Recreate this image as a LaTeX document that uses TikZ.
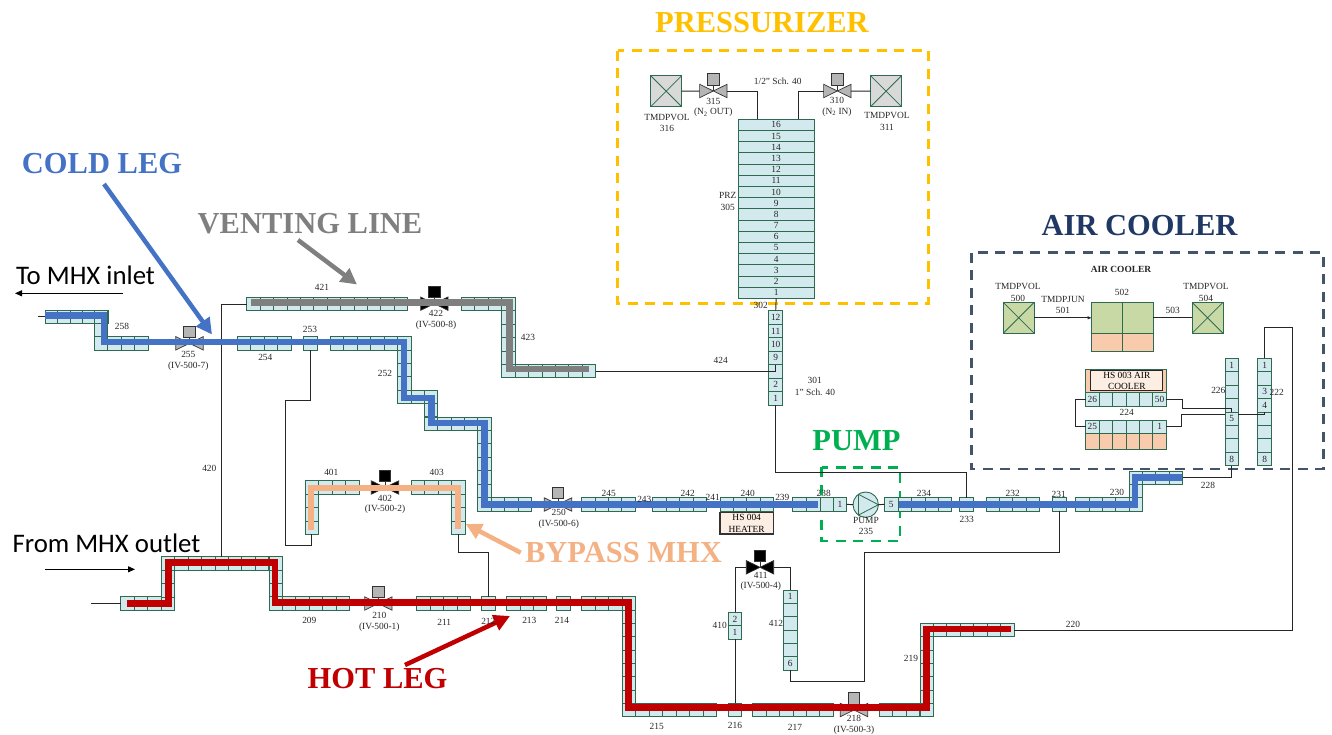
\documentclass[tikz,border=0pt]{standalone}
\usepackage{fontspec}
\setmainfont{Liberation Serif}
\newfontfamily\calibrifont{Carlito}
\usetikzlibrary{arrows.meta}
\usetikzlibrary{positioning}
\definecolor{cellblue}{HTML}{D2E9EE}
\definecolor{celledge}{HTML}{2D6A4F}
\definecolor{coolgreen}{HTML}{C9D9A6}
\definecolor{heatorange}{HTML}{F8CBAD}
\definecolor{heatbox}{HTML}{FDEEE3}
\definecolor{coldblue}{HTML}{4472C4}
\definecolor{hotred}{HTML}{C00000}
\definecolor{ventgray}{HTML}{7F7F7F}
\definecolor{bypassorange}{HTML}{F4B183}
\definecolor{przyellow}{HTML}{FFC000}
\definecolor{pumpgreen}{HTML}{00B050}
\definecolor{airnavy}{HTML}{1F3864}
\definecolor{airslate}{HTML}{44546A}
\definecolor{valvegray}{HTML}{B5B5B5}
\definecolor{tmdpgray}{HTML}{D9D9D9}
\tikzset{
  cell/.style={draw=celledge,fill=cellblue,line width=0.8pt,inner sep=0pt,outer sep=0pt},
  heatcell/.style={cell,fill=heatorange},
  greencell/.style={cell,fill=coolgreen},
  tag/.style={font=\fontsize{9.4}{10}\selectfont,inner sep=0pt,text=black!85},
  pipe/.style={draw=black!85,line width=0.95pt},
  title/.style={font=\bfseries\fontsize{30.5}{32}\selectfont,inner sep=0pt},
  callout/.style={font=\calibrifont\fontsize{26.8}{28}\selectfont,inner sep=0pt},
  leg/.style={line width=6.5pt,line join=miter},
  pointer/.style={line width=4.5pt,-{Triangle[length=16pt,width=16pt]}},
  flow/.style={line width=0.9pt,-{Triangle[length=7pt,width=6pt]}},
  valvebody/.style={minimum width=27.4pt,minimum height=13.4pt,inner sep=0pt,outer sep=0pt},
  actuator/.style={draw=black!80,line width=0.8pt,minimum size=11.3pt,inner sep=0pt,outer sep=0pt},
  tmdp/.style={draw=celledge,line width=1pt,inner sep=0pt,outer sep=0pt,minimum size=31pt,
    path picture={\draw[celledge,line width=0.8pt]
      (path picture bounding box.north west) -- (path picture bounding box.south east)
      (path picture bounding box.south west) -- (path picture bounding box.north east);}},
  zone/.style={line width=2.5pt,dash pattern=on 10pt off 7.5pt},
}
\newcommand{\hcells}[7][cell]{%
  \pgfmathsetmacro{\cw}{(#4-#3)/#7}
  \foreach \i in {1,...,#7}{
    \node[#1,minimum width=\cw pt,minimum height=#6-#5] (#2-\i) at ({#3+(\i-0.5)*\cw},{(#5+#6)/2}) {};
  }}
\newcommand{\vcells}[7][cell]{%
  \pgfmathsetmacro{\ch}{(#6-#5)/#7}
  \foreach \i in {1,...,#7}{
    \node[#1,minimum width=#4-#3,minimum height=\ch pt] (#2-\i) at ({(#3+#4)/2},{#5+(\i-0.5)*\ch}) {};
  }}
\newcommand{\valve}[4]{%
  \node[valvebody] (#1) at (#2,#3) {};
  \draw[fill=#4,draw=black!80,line width=0.7pt] (#1.south west) -- (#1.north east) -- (#1.south east) -- (#1.north west) -- cycle;
  \node[actuator,fill=#4,above=6pt of #1.center] (#1a) {};
  \draw[black!80,line width=0.8pt] (#1.center) -- (#1a.south);
}
\begin{document}
\begin{tikzpicture}[x=1pt,y=-1pt]
  \useasboundingbox (0,0) rectangle (1332,735);

  % zones
  \draw[zone,przyellow] (617.7,50.7) rectangle (928.3,303.3);
  \draw[zone,airslate] (971.7,252.7) rectangle (1323.3,469);
  \draw[zone,pumpgreen] (821.7,467.3) rectangle (900,541);

  % volumes of the cold leg
  \hcells{p258a}{45}{108}{310}{323}{5}
  \vcells{p258b}{94.3}{107.7}{310}{350}{3}
  \hcells{p258c}{94.3}{148.3}{336.7}{350}{4}
  \hcells{p254}{237.3}{291}{336.7}{350}{4}
  \hcells{p253}{303.3}{317.7}{336.7}{350}{1}
  \hcells{p252a}{330}{411}{336.7}{350}{6}
  \vcells{p252b}{397.7}{411}{336.7}{403.3}{5}
  \hcells{p252c}{397.7}{437.7}{390}{403.3}{3}
  \vcells{p252d}{424.3}{437.7}{390}{430}{3}
  \hcells{p252e}{424.3}{491}{417}{430}{5}
  \vcells{p252f}{477.7}{491}{417}{511}{7}
  \hcells{p252g}{477.7}{531.7}{497.7}{511}{4}
  \hcells{p245}{581.7}{635}{497.7}{511}{4}
  \hcells{p242}{652.7}{706.7}{497.7}{511}{4}
  \hcells{p240}{720}{773.3}{497.7}{511}{4}
  \hcells{p239}{792.7}{820}{497.7}{511}{2}
  \hcells{p238}{820}{846.7}{497.7}{511}{2}
  \hcells{p235}{884.3}{898.3}{497.7}{511}{1}
  \hcells{p234}{898.3}{951.7}{497.7}{511}{4}
  \hcells{p233}{959.3}{973.3}{497.7}{511}{1}
  \hcells{p232}{986}{1039.3}{497.7}{511}{4}
  \hcells{p231}{1052.7}{1066}{497.7}{511}{1}
  \hcells{p230a}{1075.7}{1142.3}{497.7}{511}{5}
  \vcells{p230b}{1129}{1142.3}{471}{511}{3}
  \hcells{p230c}{1129}{1182.7}{471}{484.3}{4}
  \node[tag] (n238a) at (p238-2) {1};
  \node[tag] (n235a) at (p235-1) {5};

  % volumes of the hot leg
  \hcells{p208a}{120.7}{174.3}{596.7}{610.7}{4}
  \vcells{p208b}{161}{174.3}{556.7}{610.7}{4}
  \hcells{p208c}{161}{282.3}{556.7}{570}{9}
  \vcells{p208d}{269}{282.3}{556.7}{610.7}{4}
  \hcells{p209}{269}{349.3}{596.7}{610.7}{6}
  \hcells{p211}{416.7}{470.7}{596.7}{610.7}{4}
  \hcells{p212}{481.7}{495.7}{596.7}{610.7}{1}
  \hcells{p213}{506.7}{546.7}{596.7}{610.7}{3}
  \hcells{p214}{556.7}{570.7}{596.7}{610.7}{1}
  \hcells{p215a}{581.7}{635.7}{596.7}{610.7}{4}
  \vcells{p215b}{622.3}{635.7}{596.7}{716.7}{9}
  \hcells{p215c}{622.3}{716.7}{703.3}{716.7}{7}
  \hcells{p216}{728.3}{741.7}{703.3}{716.7}{1}
  \hcells{p217}{752.7}{833.3}{703.3}{716.7}{6}
  \hcells{p219a}{879.3}{933.3}{703.3}{716.7}{4}
  \vcells{p219b}{920}{933.3}{623.3}{716.7}{7}
  \hcells{p219c}{920}{1014}{623.3}{636.7}{7}

  % venting line and bypass
  \hcells{p421}{246.7}{407.7}{297.3}{310.7}{12}
  \hcells{p423a}{461}{515}{297.3}{310.7}{4}
  \vcells{p423b}{501.7}{515}{297.3}{377.7}{6}
  \hcells{p423c}{501.7}{595.7}{364.3}{377.7}{7}
  \hcells{p401a}{305}{359}{480.7}{494}{4}
  \vcells{p401b}{305}{318.3}{480.7}{534.3}{4}
  \hcells{p403a}{411}{465}{480.7}{494}{4}
  \vcells{p403b}{451.7}{465}{480.7}{534.3}{4}
  \vcells{p410}{728.3}{741.7}{612.3}{639.3}{2}
  \vcells{p412}{783.3}{797.3}{590}{670}{6}
  \foreach \j/\lab in {1/2,2/1}{\node[tag] (n410\j) at (p410-\j) {\lab};}
  \foreach \j/\lab in {1/1,6/6}{\node[tag] (n412\j) at (p412-\j) {\lab};}

  % pressurizer
  \vcells{p305}{738.3}{814}{119.3}{298.3}{16}
  \foreach \j/\lab in {1/16,2/15,3/14,4/13,5/12,6/11,7/10,8/9,9/8,10/7,11/6,12/5,13/4,14/3,15/2,16/1}{
    \node[tag] (n305\j) at (p305-\j) {\lab};}
  \vcells{p301}{768.7}{782.7}{310.7}{405}{7}
  \foreach \j/\lab in {1/12,2/11,3/10,4/9,6/2,7/1}{\node[tag] (n301\j) at (p301-\j) {\lab};}
  \node[tmdp,fill=tmdpgray] (v316) at (666.2,91.2) {};
  \node[tmdp,fill=tmdpgray] (v311) at (886,91.2) {};
  \valve{v315}{713.3}{91}{valvegray}
  \valve{v310}{837.3}{91}{valvegray}
  \coordinate (k315) at (757.7,119.3);
  \coordinate (k310) at (798.3,119.3);
  \draw[pipe] (v316) -- (v315);
  \draw[pipe] (v315.east) -| (k315);
  \draw[pipe] (v311) -- (v310);
  \draw[pipe] (v310.west) -| (k310);
  \draw[pipe] (p305-16.south) -- (p301-1.north);

  % air cooler
  \node[tmdp,fill=coolgreen] (v500) at (1018.7,317.8) {};
  \node[tmdp,fill=coolgreen] (v504) at (1207.5,317.8) {};
  \hcells[greencell]{p502}{1091.7}{1153}{302.3}{333.3}{2}
  \hcells[heatcell]{h502}{1091.7}{1153}{333.3}{351}{2}
  \draw[pipe,-{Latex[length=4pt,width=3.5pt]}] (v500.east) -- (v500.east -| p502-1.west);
  \draw[pipe] (v504.west) -- (v504.west -| p502-2.east);
  \hcells[heatcell]{h003}{1085.7}{1166.3}{369.3}{392.7}{1}
  \node[draw=black!85,line width=1pt,fill=heatbox,inner sep=0pt,minimum width=71.7pt,minimum height=19.7pt,
    font=\fontsize{9.4}{10.8}\selectfont,align=center] (b003) at (1126.8,380.8) {HS 003 AIR\\COOLER};
  \hcells{p224a}{1085.7}{1166.3}{392.7}{406}{6}
  \hcells{p224b}{1085.7}{1166.3}{420}{433.3}{6}
  \hcells[heatcell]{h224}{1085.7}{1166.3}{433.3}{449.3}{6}
  \node[tag] (n2241) at (p224a-1) {26};
  \node[tag] (n2242) at (p224a-6) {50};
  \node[tag] (n2243) at (p224b-1) {25};
  \node[tag] (n2244) at (p224b-6) {1};
  \vcells{p226}{1225}{1238.3}{358.3}{465.7}{8}
  \vcells{p222}{1257.7}{1271.7}{358.3}{465.7}{8}
  \foreach \j/\lab in {1/1,5/5,8/8}{\node[tag] (n226\j) at (p226-\j) {\lab};}
  \foreach \j/\lab in {1/1,3/3,4/4,8/8}{\node[tag] (n222\j) at (p222-\j) {\lab};}
  \coordinate (k224l) at (1075,413);
  \coordinate (k224a) at (1182.3,408.3);
  \coordinate (k224b) at (1181.7,414.3);
  \draw[pipe] (p224a-1.west) -| (k224l) |- (p224b-1.west);
  \draw[pipe] (p224a-6.east) -| (k224a) -| (p226-5.north);
  \draw[pipe] (p224b-6.east) -| (k224b) -- (k224b -| p226-5.west);
  \draw[pipe] (k224b -| p226-5.east) -| (p222-4.south);

  % valves on the loop
  \valve{v255}{189.5}{343.3}{valvegray}
  \valve{v422}{434.3}{303.7}{black}
  \valve{v402}{385}{487.5}{black}
  \valve{v250}{558}{504.5}{valvegray}
  \valve{v411}{760}{567.3}{black}
  \valve{v210}{378.3}{603.5}{valvegray}
  \valve{v218}{854}{710}{valvegray}

  % pump and heater
  \node[circle,draw=celledge,fill=cellblue,line width=0.9pt,inner sep=0pt,outer sep=0pt,minimum size=25.4pt] (pump) at (865.7,504.7) {};
  \draw[celledge,line width=0.8pt] (pump.125) -- (pump.east) -- (pump.-125) -- cycle;
  \draw[pipe] (p238-2.east) -- (pump.west);
  \draw[pipe] (pump.east) -- (p235-1.west);
  \node[draw=black!80,line width=1.2pt,fill=heatbox,inner sep=0pt,minimum width=53.3pt,minimum height=21.3pt,
    font=\fontsize{9.4}{11.6}\selectfont,align=center] (b004) at (746.7,523.3) {HS 004\\HEATER};

  % connections
  \coordinate (k253a) at (285.7,400.3);
  \coordinate (k253b) at (285.7,545.7);
  \coordinate (k403) at (470,552.3);
  \coordinate (k233) at (870,472.7);
  \coordinate (k231a) at (864.3,552.3);
  \coordinate (k231b) at (864.3,681);
  \coordinate (k222) at (1292.3,327.7);
  \coordinate (in0) at (38.3,316.5);
  \coordinate (out0) at (91.3,603.7);
  \draw[pipe] (in0) -- (p258a-1.west);
  \draw[pipe] (out0) -- (p208a-1.west);
  \draw[pipe] (p421-1.west) -| (p208c-5.north);
  \draw[pipe] (p253-1.south) |- (k253a) -- (k253b) -| (p401b-4.south);
  \draw[pipe] (p403b-4.south) |- (k403) -| (p212-1.north);
  \draw[pipe] (p423c-7.east) -| (p301-5.north);
  \draw[pipe] (p233-1.north) |- (k233) -| (p301-7.south);
  \draw[pipe] (p231-1.south) |- (k231a) -- (k231b) -| (p412-6.south);
  \draw[pipe] (p410-1.north) |- (v411.west);
  \draw[pipe] (v411.east) -| (p412-1.north);
  \draw[pipe] (p410-2.south) -- (p216-1.north);
  \draw[pipe] (p222-1.north) |- (k222) |- (p219c-7.east);
  \draw[pipe] (p226-8.south) |- (p230c-4.east);

  % highlighted legs
  \draw[leg,coldblue] (45,315.7) -- (104,315.7) -- (104,342) -- (404,342) -- (404,398) -- (431.7,398) -- (431.7,423)
    -- (484.5,423) -- (484.5,504.7) -- (818,504.7);
  \draw[leg,coldblue] (899,504.7) -- (1135,504.7) -- (1135,477.3) -- (1182,477.3);
  \draw[leg,hotred] (126.7,603.3) -- (168.3,603.3) -- (168.3,562.7) -- (275,562.7) -- (275,602.7) -- (628.3,602.7)
    -- (628.3,707.7) -- (926.7,707.7) -- (926.7,629) -- (1010.7,629);
  \draw[leg,ventgray] (251,302.5) -- (509.3,302.5) -- (509.3,369) -- (589,369);
  \draw[leg,bypassorange] (311,530) -- (311,488) -- (458,488) -- (458,529.3);

  % pointers
  \coordinate (coldS) at (104,184);
  \coordinate (coldT) at (212,334.5);
  \coordinate (ventS) at (298,240);
  \coordinate (ventT) at (357,284.5);
  \coordinate (bypassS) at (520.7,552.7);
  \coordinate (bypassT) at (465.7,524);
  \coordinate (hotS) at (405,665);
  \coordinate (hotT) at (510,616);
  \coordinate (inS) at (123,293.3);
  \coordinate (inT) at (15,293.3);
  \coordinate (outS) at (45,569.3);
  \coordinate (outT) at (135,569.3);
  \draw[pointer,coldblue] (coldS) -- (coldT);
  \draw[pointer,ventgray] (ventS) -- (ventT);
  \draw[pointer,bypassorange] (bypassS) -- (bypassT);
  \draw[pointer,hotred] (hotS) -- (hotT);
  \draw[flow] (inS) -- (inT);
  \draw[flow] (outS) -- (outT);

  % titles
  \node[title,przyellow] (tprz) at (762,23) {PRESSURIZER};
  \node[title,airnavy] (tair) at (1139.5,226) {AIR COOLER};
  \node[title,coldblue] (tcold) at (102,164) {COLD LEG};
  \node[title,ventgray] (tvent) at (310,224) {VENTING LINE};
  \node[title,bypassorange] (tbypass) at (623.5,553) {BYPASS MHX};
  \node[title,hotred] (thot) at (377.5,679) {HOT LEG};
  \node[title,pumpgreen] (tpump) at (856.5,441) {PUMP};
  \node[callout] (tinlet) at (85.5,275.5) {To MHX inlet};
  \node[callout] (toutlet) at (106.5,543) {From MHX outlet};

  % labels
  \node[tag,font=\bfseries\fontsize{9.4}{10}\selectfont] (lair) at (1121,269.7) {AIR COOLER};
  \foreach \nm/\px/\py/\txt in {
    a/667/117.7/TMDPVOL, b/667/128.7/316, c/713.3/101.7/315, e/777.7/81.7/1\slash 2" Sch. 40,
    f/837/100/310, h/887/115.7/TMDPVOL, i/887/127.7/311,
    j/727.7/195.7/PRZ, k/727.7/207.7/305, l/760.7/305/302, m/720.7/360.7/424, n/814.7/380/301,
    o/815/392/1" Sch. 40, p/1018/286.7/TMDPVOL, q/1018/298.7/500, r/1063/299.3/TMDPJUN, s/1063/310.7/501,
    t/1122/292/502, u/1172.7/310.7/503, v/1206/286.7/TMDPVOL, w/1206/298.7/504, x/1126.7/412.7/224,
    y/1218.3/390/226, z/1276.7/392/222}{
    \node[tag] (lab\nm) at (\px,\py) {\txt};}
  \node[tag] (labd) at (713.3,112.7) {(N\textsubscript{2} OUT)};
  \node[tag] (labg) at (837,112) {(N\textsubscript{2} IN)};
  \foreach \nm/\px/\py/\txt in {
    258/122/326.7/258, 255/188.3/354/255, 255b/188.3/366/(IV-500-7), 254/265.3/357.7/254, 253/310/329.7/253,
    252/385/373.7/252, 421/322/287.7/421, 422/436/313.3/422, 422b/436/325/(IV-500-8), 423/528/337.7/423,
    420/209.3/468.3/420, 401/331.3/472.7/401, 403/436.7/472.7/403, 402/385/498/402, 402b/385/509/(IV-500-2),
    250/558.7/512.7/250, 250b/558.7/524/(IV-500-6), 245/608.7/493.7/245, 243/644.3/499.7/243, 242/687.7/493.7/242,
    241/712.7/497.7/241, 240/747.7/493.7/240, 239/782.3/497/239, 238/823.7/493/238, 234/924/493/234,
    233/966.7/519.7/233, 232/1012.7/493/232, 231/1058.7/494/231, 230/1117/492/230, 228/1208/485/228,
    pump/866/520.7/PUMP, 235/866/531.7/235, 209/309.3/620/209, 210/379.3/615.7/210, 210b/379.3/627/(IV-500-1),
    211/444.3/622/211, 212/488.3/621/212, 213/529.3/620/213, 214/562/620/214, 215/656.7/726.7/215,
    216/735/725/216, 217/795/727/217, 218/854/718.3/218, 218b/854/730.7/(IV-500-3), 219/911/658.3/219,
    220/1073/624/220, 410/719.7/625.7/410, 412/776/623.3/412, 411/760.7/575.7/411, 411b/760.7/586.7/(IV-500-4)}{
    \node[tag] (t\nm) at (\px,\py) {\txt};}
\end{tikzpicture}
\end{document}
